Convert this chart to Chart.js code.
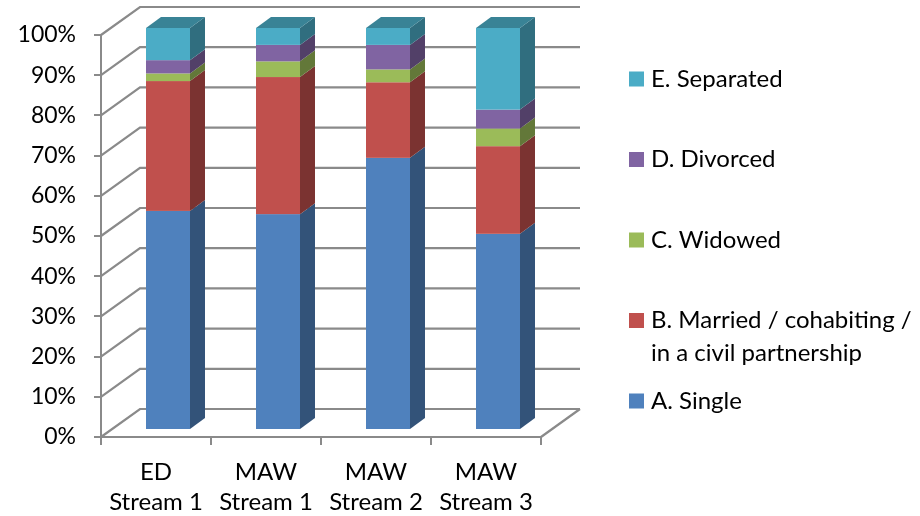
<!DOCTYPE html>
<html>
<head>
<meta charset="utf-8">
<script src="https://cdn.jsdelivr.net/npm/chart.js@4.4.1/dist/chart.umd.min.js"></script>
<style>
  html, body { margin: 0; padding: 0; background: #ffffff; }
  #wrap { width: 920px; height: 516px; position: relative; }
</style>
</head>
<body>
<div id="wrap"><canvas id="c" width="920" height="516"></canvas></div>
<script>
// Marital status by stream (% of respondents)
const categories = [['ED', 'Stream 1'], ['MAW', 'Stream 1'], ['MAW', 'Stream 2'], ['MAW', 'Stream 3']];
const single    = [54.5, 53.7, 67.7, 48.8];
const married   = [32.3, 34.1, 18.8, 21.8];
const widowed   = [1.9, 3.9, 3.2, 4.4];
const divorced  = [3.3, 4.1, 6.1, 4.7];
const separated = [8.0, 4.2, 4.2, 20.3];
const seriesLabels = [
  ['A. Single'],
  ['B. Married / cohabiting /', 'in a civil partnership'],
  ['C. Widowed'],
  ['D. Divorced'],
  ['E. Separated']
];
const yTicks = [0, 10, 20, 30, 40, 50, 60, 70, 80, 90, 100];

const seriesColors = ['#4F81BD', '#C0504D', '#9BBB59', '#8064A2', '#4BACC6'];
const FONT = 'Lato, "Open Sans", sans-serif';
const GRID = '#8a8a8a';
const WALL = { dx: 39, dy: -28 };      // depth of the back wall
const BAR_FRONT = { dx: 12, dy: -7 };  // front face of the columns inside the box
const BAR_DEPTH = { dx: 15, dy: -11 }; // column depth

function shade(hex, f) {
  const n = parseInt(hex.slice(1), 16);
  const r = Math.round(((n >> 16) & 255) * f);
  const g = Math.round(((n >> 8) & 255) * f);
  const b = Math.round((n & 255) * f);
  return `rgb(${r},${g},${b})`;
}

// Draws the walls, the 3D columns and the legend
const box3d = {
  id: 'box3d',
  beforeDatasetsDraw(chart) {
    const { ctx, chartArea: a, scales: { y } } = chart;
    ctx.save();
    ctx.strokeStyle = GRID;
    ctx.lineWidth = 2.2;
    yTicks.forEach(v => {
      const py = y.getPixelForValue(v);
      ctx.beginPath();
      ctx.moveTo(a.left, py);
      ctx.lineTo(a.left + WALL.dx, py + WALL.dy);
      ctx.lineTo(a.right + WALL.dx, py + WALL.dy);
      ctx.stroke();
    });
    const p0 = y.getPixelForValue(0);
    ctx.beginPath();
    ctx.moveTo(a.right, p0);
    ctx.lineTo(a.right + WALL.dx, p0 + WALL.dy);
    ctx.stroke();

    const n = chart.data.labels.length;
    for (let j = 0; j < n; j++) {
      let top = null;
      chart.data.datasets.forEach((ds, i) => {
        const el = chart.getDatasetMeta(i).data[j];
        const x0 = el.x - el.width / 2 + BAR_FRONT.dx;
        const x1 = el.x + el.width / 2 + BAR_FRONT.dx;
        const yt = el.y + BAR_FRONT.dy;
        const yb = el.base + BAR_FRONT.dy;
        ctx.fillStyle = ds.backgroundColor;
        ctx.fillRect(x0, yt, x1 - x0, yb - yt);
        ctx.fillStyle = shade(ds.backgroundColor, 0.64);
        ctx.beginPath();
        ctx.moveTo(x1, yt);
        ctx.lineTo(x1 + BAR_DEPTH.dx, yt + BAR_DEPTH.dy);
        ctx.lineTo(x1 + BAR_DEPTH.dx, yb + BAR_DEPTH.dy);
        ctx.lineTo(x1, yb);
        ctx.closePath();
        ctx.fill();
        top = { x0, x1, yt, color: ds.backgroundColor };
      });
      if (top) {
        ctx.fillStyle = shade(top.color, 0.76);
        ctx.beginPath();
        ctx.moveTo(top.x0, top.yt);
        ctx.lineTo(top.x1, top.yt);
        ctx.lineTo(top.x1 + BAR_DEPTH.dx, top.yt + BAR_DEPTH.dy);
        ctx.lineTo(top.x0 + BAR_DEPTH.dx, top.yt + BAR_DEPTH.dy);
        ctx.closePath();
        ctx.fill();
      }
    }
    ctx.restore();
    return false;
  },
  afterDraw(chart) {
    const { ctx } = chart;
    const ds = chart.data.datasets;
    ctx.save();
    ctx.font = `24px ${FONT}`;
    ctx.textBaseline = 'middle';
    ctx.textAlign = 'left';
    for (let k = 0; k < ds.length; k++) {
      const i = ds.length - 1 - k;
      const yc = 79 + k * 80.5;
      ctx.fillStyle = ds[i].backgroundColor;
      ctx.fillRect(629, yc - 7.5, 15, 15);
      ctx.fillStyle = '#000000';
      seriesLabels[i].forEach((line, li) => ctx.fillText(line, 651, yc + li * 33));
    }
    ctx.restore();
  }
};

const datasets = [single, married, widowed, divorced, separated].map((data, i) => ({
  label: seriesLabels[i].join(' '),
  data,
  backgroundColor: seriesColors[i],
  borderWidth: 0,
  categoryPercentage: 0.8,
  barPercentage: 0.5
}));

new Chart(document.getElementById('c'), {
  type: 'bar',
  data: { labels: categories, datasets },
  plugins: [box3d],
  options: {
    responsive: false,
    animation: false,
    events: [],
    layout: { padding: { left: 0, right: 379, top: 35, bottom: 0 } },
    plugins: { legend: { display: false }, tooltip: { enabled: false } },
    scales: {
      x: {
        stacked: true,
        grid: { drawOnChartArea: false, tickLength: 8, color: GRID, lineWidth: 2, offset: true },
        border: { color: GRID, width: 2 },
        ticks: { color: '#000000', padding: 12, font: { family: FONT, size: 24, lineHeight: 1.25 }, maxRotation: 0 },
        afterFit(scale) { scale.height = 79; }
      },
      y: {
        stacked: true,
        min: 0,
        max: 100,
        grid: { drawOnChartArea: false, tickLength: 7, color: GRID, lineWidth: 2 },
        border: { color: GRID, width: 2 },
        ticks: {
          stepSize: 10,
          color: '#000000',
          padding: 18,
          font: { family: FONT, size: 23 },
          callback: v => v + '%'
        },
        afterFit(scale) { scale.width = 101; }
      }
    }
  }
});
</script>
</body>
</html>
